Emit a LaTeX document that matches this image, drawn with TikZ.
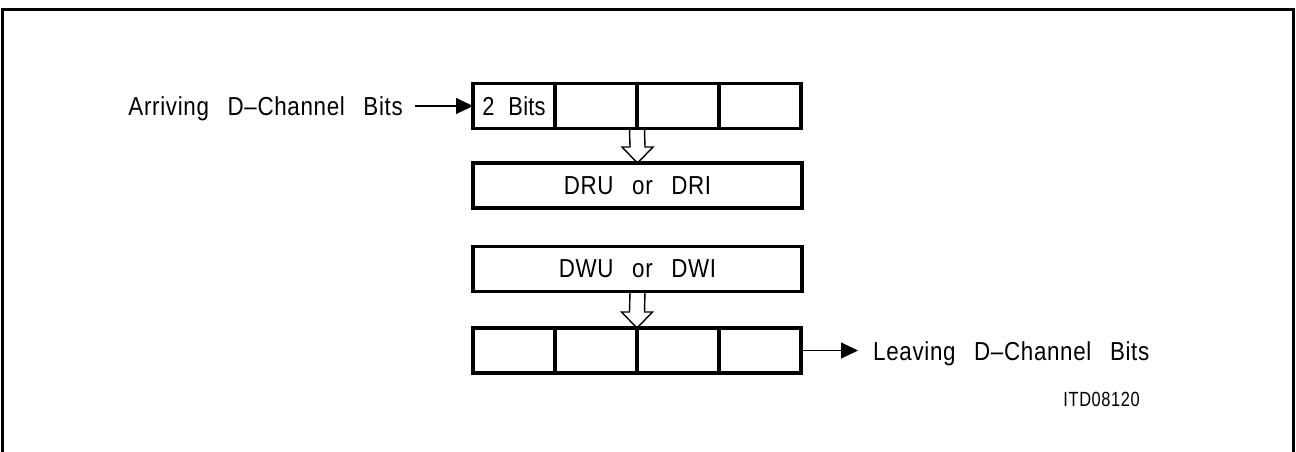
\documentclass[tikz,border=0pt]{standalone}
\usepackage{fontspec}
\setmainfont{Liberation Sans}
\newfontfamily\lblfont[FakeStretch=0.86,WordSpace=2.7,LetterSpace=2.6]{Liberation Sans}
\newfontfamily\cellfont[FakeStretch=0.84,WordSpace=2.2,LetterSpace=1]{Liberation Sans}
\newfontfamily\itdfont[FakeStretch=0.8,LetterSpace=3]{Liberation Sans}
\usetikzlibrary{arrows.meta}
\tikzset{
  lbl/.style={font=\lblfont\fontsize{26}{30}\selectfont, inner sep=0pt},
  cell/.style={draw, line width=3.4pt, minimum width=82pt, minimum height=45pt, inner sep=0pt, outer sep=0pt, font=\cellfont\fontsize{26}{30}\selectfont},
  widebox/.style={lbl, draw, line width=3.4pt, minimum width=329pt, minimum height=45pt, outer sep=0pt},
  frame/.style={line width=3pt},
  hollow/.style={line width=1.4pt, line join=miter},
  thinarrow/.style={line width=1.2pt, -{Triangle[length=17pt,width=16pt]}},
}
\begin{document}
\begin{tikzpicture}[x=1pt,y=-1pt]
\useasboundingbox (0,0) rectangle (1296,451);
% frame
\coordinate (fbl) at (2.5,455);
\coordinate (ftl) at (2.5,9.5);
\coordinate (ftr) at (1293.5,9.5);
\coordinate (fbr) at (1293.5,455);
\draw[frame] (fbl) -- (ftl) -- (ftr) -- (fbr);
% top register
\node[cell] (a1) at (514,106) {2 Bits};
\node[cell] (a2) at (596,106) {};
\node[cell] (a3) at (678,106) {};
\node[cell] (a4) at (760,106) {};
% DRU
\node[widebox] (dru) at (637.5,185.5) {DRU or DRI};
% DWU
\node[widebox] (dwu) at (637.5,269) {DWU or DWI};
% bottom register
\node[cell] (b1) at (514,350.5) {};
\node[cell] (b2) at (596,350.5) {};
\node[cell] (b3) at (678,350.5) {};
\node[cell] (b4) at (760,350.5) {};
% hollow arrow 1
\draw[hollow] ([xshift=-7.5pt]a2.south east) -- ([xshift=-7.5pt,yshift=16pt]dru.north)
  -- ([xshift=-15.5pt,yshift=16pt]dru.north) -- (dru.north)
  -- ([xshift=15.5pt,yshift=16pt]dru.north) -- ([xshift=7.5pt,yshift=16pt]dru.north)
  -- ([xshift=7.5pt]a2.south east);
% hollow arrow 2
\draw[hollow] ([xshift=-7.5pt]dwu.south) -- ([xshift=-7.5pt,yshift=16pt]b2.north east)
  -- ([xshift=-15.5pt,yshift=16pt]b2.north east) -- (b2.north east)
  -- ([xshift=15.5pt,yshift=16pt]b2.north east) -- ([xshift=7.5pt,yshift=16pt]b2.north east)
  -- ([xshift=7.5pt]dwu.south);
% labels
\node[lbl, anchor=base east] (arr) at (403,115) {Arriving D–Channel Bits};
\node[lbl, anchor=base west] (lea) at (873,360) {Leaving D–Channel Bits};
\node[font=\itdfont\fontsize{20.5}{24}\selectfont, inner sep=0pt, anchor=base east] (itd) at (1140,406) {ITD08120};
% arrows
\draw[thinarrow, shorten <=12pt] (arr.east |- a1.west) -- (a1.west);
\draw[thinarrow, shorten >=15pt] (b4.east) -- (lea.west |- b4.east);
\end{tikzpicture}
\end{document}
